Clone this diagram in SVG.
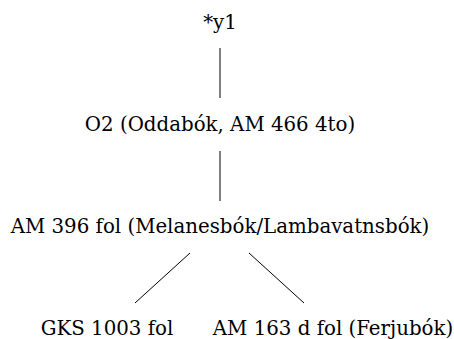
<svg xmlns="http://www.w3.org/2000/svg" width="454" height="339" viewBox="0 0 454 339">
<style>
text{font-family:"DejaVu Serif",serif;font-size:19.8px;fill:#000;text-anchor:middle}
line{stroke:#000;stroke-width:1}
</style>
<rect width="454" height="339" fill="#fff"/>
<g id="connectors">
<line x1="220" y1="48" x2="220" y2="98"/>
<line x1="220" y1="151" x2="220" y2="201"/>
<line x1="190" y1="253" x2="135" y2="303"/>
<line x1="249" y1="253" x2="304" y2="303"/>
</g>
<g id="y1"><text x="220" y="29">*y1</text></g>
<g id="O2"><text x="220" y="131">O2 (Oddabók, AM 466 4to)</text></g>
<g id="AM396"><text x="220" y="233">AM 396 fol (Melanesbók/Lambavatnsbók)</text></g>
<g id="GKS1003"><text x="107" y="335">GKS 1003 fol</text></g>
<g id="AM163d"><text x="333" y="335">AM 163 d fol (Ferjubók)</text></g>
</svg>
